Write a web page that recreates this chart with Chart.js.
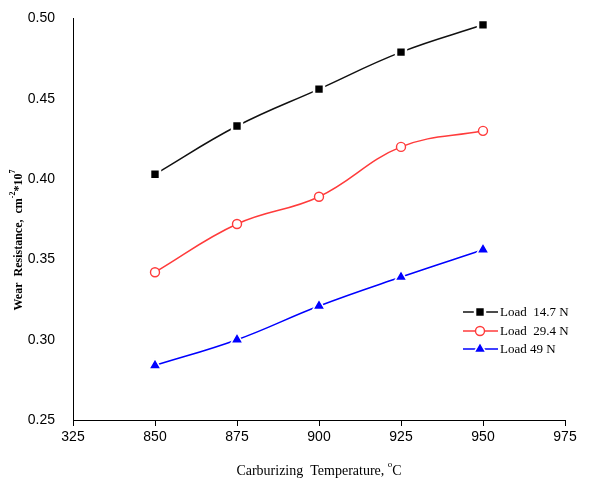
<!DOCTYPE html>
<html>
<head>
<meta charset="utf-8">
<script src="https://cdn.jsdelivr.net/npm/chart.js@4.4.1/dist/chart.umd.min.js"></script>
<style>
  html, body { margin: 0; padding: 0; background: #fff; }
  #wrap { width: 596px; height: 486px; }
</style>
</head>
<body>
<div id="wrap"><canvas id="c" width="596" height="486"></canvas></div>
<script>
// values
const temps = [850, 875, 900, 925, 950];
const load147 = [0.403, 0.433, 0.456, 0.479, 0.496];
const load294 = [0.342, 0.372, 0.389, 0.420, 0.430];
const load49 = [0.284, 0.300, 0.321, 0.339, 0.356];
const xTickLabels = ['325', '850', '875', '900', '925', '950', '975'];
const seriesLabels = ['Load  14.7 N', 'Load  29.4 N', 'Load 49 N'];

const SERIF = '"Liberation Serif", "DejaVu Serif", serif';
const SANS = '"Liberation Sans", Arial, sans-serif';

function toPoints(ys) {
    return temps.map((t, i) => ({x: t, y: ys[i]}));
}

// legend drawn inside the plot, line + marker like the original
const insideLegend = {
    id: 'insideLegend',
    afterDatasetsDraw(chart) {
        const ctx = chart.ctx;
        const rows = [312, 331, 349];
        ctx.save();
        chart.data.datasets.forEach((ds, i) => {
            const y = rows[i];
            ctx.strokeStyle = ds.borderColor;
            ctx.lineWidth = 1.5;
            ctx.beginPath();
            ctx.moveTo(463, y);
            ctx.lineTo(498, y);
            ctx.stroke();
            ctx.fillStyle = ds.pointBackgroundColor;
            ctx.strokeStyle = ds.pointBorderColor;
            ctx.lineWidth = ds.pointBorderWidth;
            Chart.helpers.drawPoint(ctx, {
                pointStyle: ds.pointStyle,
                radius: ds.pointRadius,
                borderWidth: ds.pointBorderWidth,
                rotation: 0
            }, 480, y);
            ctx.fillStyle = '#000';
            ctx.font = '13px ' + SERIF;
            ctx.textBaseline = 'middle';
            ctx.textAlign = 'left';
            ctx.fillText(ds.label, 500, y + 1);
        });
        ctx.restore();
    }
};

// axis titles with superscripts
const axisTitles = {
    id: 'axisTitles',
    afterDraw(chart) {
        const ctx = chart.ctx;
        const area = chart.chartArea;
        ctx.save();
        ctx.fillStyle = '#000';
        ctx.textBaseline = 'alphabetic';

        // x title
        ctx.font = '14px ' + SERIF;
        const xMain = 'Carburizing  Temperature, ';
        const wMain = ctx.measureText(xMain).width;
        ctx.font = '9px ' + SERIF;
        const wDeg = ctx.measureText('o').width;
        ctx.font = '14px ' + SERIF;
        const wC = ctx.measureText('C').width;
        let x = (area.left + area.right) / 2 - (wMain + wDeg + wC) / 2;
        ctx.textAlign = 'left';
        ctx.fillText(xMain, x, 475);
        ctx.font = '9px ' + SERIF;
        ctx.fillText('o', x + wMain, 467);
        ctx.font = '14px ' + SERIF;
        ctx.fillText('C', x + wMain + wDeg, 475);

        // y title, rotated
        const parts = [
            {t: 'Wear  Resistance,  cm', f: 'bold 12px ', dy: 0},
            {t: '-2', f: 'bold 8px ', dy: -7},
            {t: '*10', f: 'bold 12px ', dy: 0},
            {t: '7', f: 'bold 8px ', dy: -7}
        ];
        let total = 0;
        parts.forEach(p => { ctx.font = p.f + SERIF; p.w = ctx.measureText(p.t).width; total += p.w; });
        ctx.translate(22, 240);
        ctx.rotate(-Math.PI / 2);
        let px = -total / 2;
        parts.forEach(p => {
            ctx.font = p.f + SERIF;
            ctx.fillText(p.t, px, p.dy);
            px += p.w;
        });
        ctx.restore();
    }
};

new Chart(document.getElementById('c'), {
    type: 'line',
    data: {
        datasets: [
            {
                label: seriesLabels[0],
                data: toPoints(load147),
                borderColor: '#111111',
                borderWidth: 1.5,
                pointStyle: 'rect',
                pointRadius: 7,
                pointBackgroundColor: '#000000',
                pointBorderColor: '#ffffff',
                pointBorderWidth: 2.5,
                tension: 0.4
            },
            {
                label: seriesLabels[1],
                data: toPoints(load294),
                borderColor: '#ff3b3b',
                borderWidth: 1.5,
                pointStyle: 'circle',
                pointRadius: 4.5,
                pointBackgroundColor: '#ffffff',
                pointBorderColor: '#ff3b3b',
                pointBorderWidth: 1.4,
                tension: 0.4
            },
            {
                label: seriesLabels[2],
                data: toPoints(load49),
                borderColor: '#0000ff',
                borderWidth: 1.5,
                pointStyle: 'triangle',
                pointRadius: 7,
                pointBackgroundColor: '#0000ff',
                pointBorderColor: '#ffffff',
                pointBorderWidth: 1.5,
                tension: 0.4
            }
        ]
    },
    options: {
        responsive: false,
        animation: false,
        layout: {padding: {top: 15, right: 31, left: 0, bottom: 0}},
        plugins: {
            legend: {display: false},
            tooltip: {enabled: false}
        },
        scales: {
            x: {
                type: 'linear',
                min: 825,
                max: 975,
                grid: {drawOnChartArea: false, color: '#000', tickLength: 6},
                border: {display: true, color: '#000', width: 1},
                ticks: {
                    stepSize: 25,
                    color: '#000',
                    padding: 3,
                    font: {family: SANS, size: 14},
                    callback: (v, i) => xTickLabels[i]
                },
                afterFit: s => { s.height = 66; }
            },
            y: {
                min: 0.25,
                max: 0.50,
                grid: {display: false},
                border: {display: true, color: '#000', width: 1},
                ticks: {
                    stepSize: 0.05,
                    color: '#000',
                    padding: 10,
                    font: {family: SANS, size: 14},
                    callback: v => v.toFixed(2)
                },
                afterFit: s => { s.width = 73; }
            }
        }
    },
    plugins: [insideLegend, axisTitles]
});
</script>
</body>
</html>
